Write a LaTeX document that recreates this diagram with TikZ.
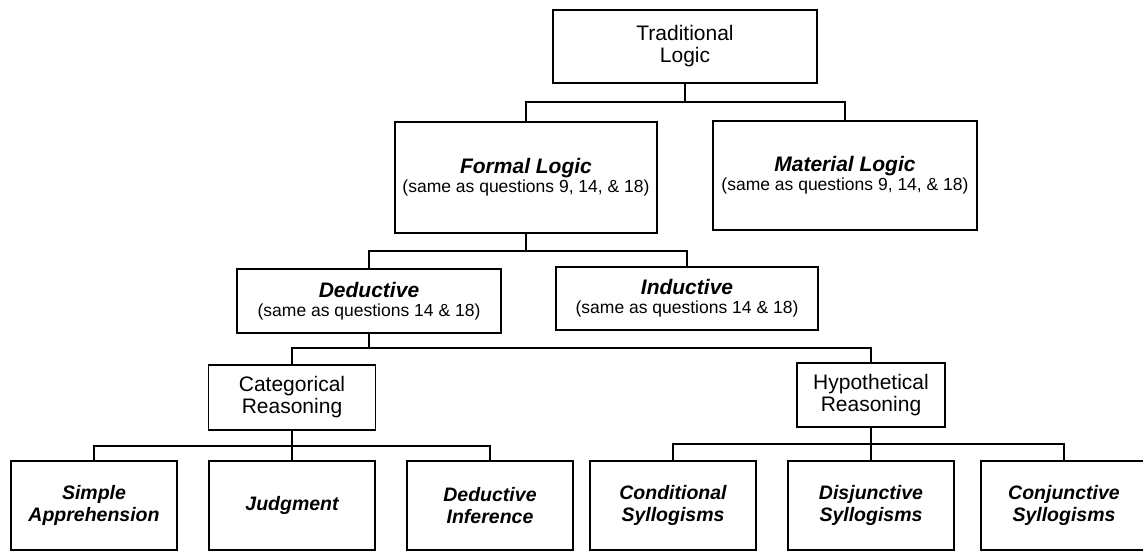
\documentclass[tikz,border=0pt]{standalone}
\usepackage{fontspec}
\setmainfont{Liberation Sans}
\begin{document}
\begin{tikzpicture}[x=1pt,y=-1pt,
  box/.style={draw=black, line width=1.6pt, rectangle, inner sep=0pt, align=center,
    font={\fontsize{21}{22}\selectfont}},
  headbox/.style={box, font={\fontsize{21}{22}\selectfont\bfseries\itshape}},
  leafbox/.style={box, minimum width=166pt, minimum height=89pt,
    font={\fontsize{19.5}{22}\selectfont\bfseries\itshape}},
  link/.style={line width=1.5pt, line join=miter}]
\newcommand{\subline}[1]{{\fontsize{17.5}{18}\selectfont\mdseries\upshape #1}}
% page frame
\fill[white] (0,0) rectangle (1143,552);
\useasboundingbox (0,0) rectangle (1143,552);

% top level
\node[box, minimum width=264pt, minimum height=73pt] (trad) at (685,46.5) {Traditional\\Logic};

% second level
\node[headbox, minimum width=262pt, minimum height=111pt] (formal) at (526,177.5)
  {Formal Logic\\[-3pt]\subline{(same as questions 9, 14, \& 18)}};
\node[headbox, minimum width=264pt, minimum height=109pt] (material) at (845,175.5)
  {Material Logic\\[-3pt]\subline{(same as questions 9, 14, \& 18)}};

% third level
\node[headbox, minimum width=264pt, minimum height=64pt] (deduct) at (369,301)
  {Deductive\\[-3pt]\subline{(same as questions 14 \& 18)}};
\node[headbox, minimum width=262pt, minimum height=63pt] (induct) at (687,298.5)
  {Inductive\\[-3pt]\subline{(same as questions 14 \& 18)}};

% fourth level
\node[box, minimum width=167pt, minimum height=65pt] (categ) at (292,397.5) {Categorical\\Reasoning};
\node[box, minimum width=148pt, minimum height=64pt] (hypo) at (871,395) {Hypothetical\\Reasoning};

% leaves
\node[leafbox] (simple) at (94,505.5) {Simple\\Apprehension};
\node[leafbox] (judg) at (292,505.5) {Judgment};
\node[leafbox] (dinf) at (490,505.5) {Deductive\\Inference};
\node[leafbox] (cond) at (673,505.5) {Conditional\\Syllogisms};
\node[leafbox] (disj) at (871,505.5) {Disjunctive\\Syllogisms};
\node[leafbox] (conj) at (1064,505.5) {Conjunctive\\Syllogisms};

% bus lines
\coordinate (b1) at (0,102);
\coordinate (b2) at (0,251);
\coordinate (b3) at (0,348);
\coordinate (b4) at (0,446);
\coordinate (b5) at (0,444);

\draw[link] (trad.south) -- (trad.south |- b1);
\draw[link] (formal.north) |- (b1 -| material.north) -- (material.north);

\draw[link] (formal.south) -- (formal.south |- b2);
\draw[link] (deduct.north) |- (b2 -| induct.north) -- (induct.north);

\draw[link] (deduct.south) -- (deduct.south |- b3);
\draw[link] (categ.north) |- (b3 -| hypo.north) -- (hypo.north);

\draw[link] (categ.south) -- (judg.north);
\draw[link] (simple.north) |- (b4 -| dinf.north) -- (dinf.north);

\draw[link] (hypo.south) -- (disj.north);
\draw[link] (cond.north) |- (b5 -| conj.north) -- (conj.north);
\end{tikzpicture}
\end{document}
